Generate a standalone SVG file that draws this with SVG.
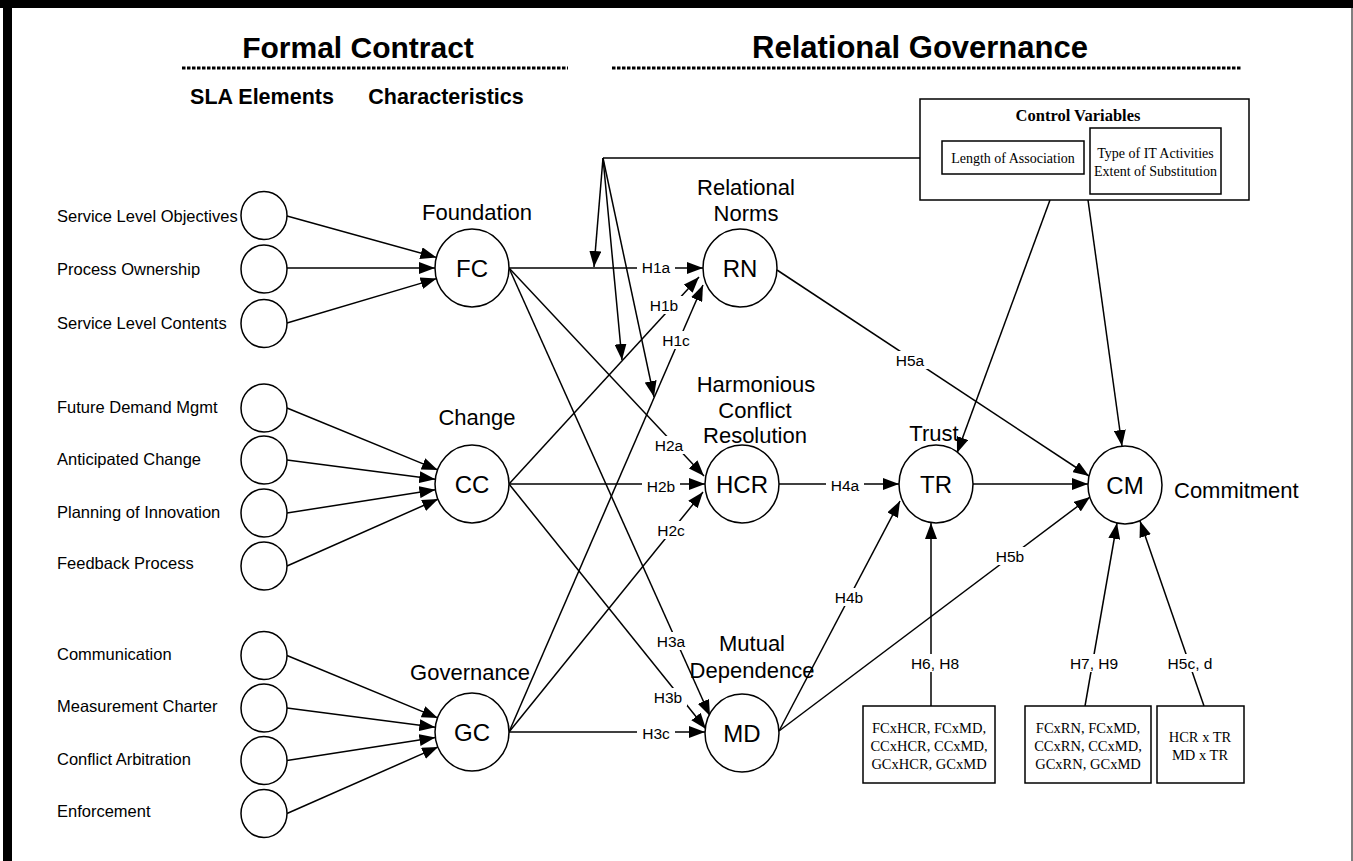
<svg xmlns="http://www.w3.org/2000/svg" width="1353" height="861" viewBox="0 0 1353 861">
<style>
.h1{font-family:"Liberation Sans",Arial,sans-serif;font-size:31px;font-weight:bold;text-anchor:middle}
.h2{font-family:"Liberation Sans",Arial,sans-serif;font-size:21.5px;font-weight:bold;text-anchor:middle}
.el{font-family:"Liberation Sans",Arial,sans-serif;font-size:16.5px}
.lb{font-family:"Liberation Sans",Arial,sans-serif;font-size:22px;text-anchor:middle}
.n{font-family:"Liberation Sans",Arial,sans-serif;font-size:24px;text-anchor:middle}
.hy{font-family:"Liberation Sans",Arial,sans-serif;font-size:15.5px;text-anchor:middle}
.sf{font-family:"Liberation Serif","Times New Roman",serif;font-size:14.5px;text-anchor:middle}
.sfb{font-family:"Liberation Serif","Times New Roman",serif;font-size:16.5px;font-weight:bold;text-anchor:middle}
.c{fill:#fff;stroke:#000;stroke-width:1.5}
.bx{fill:#fff;stroke:#000;stroke-width:1.5}
.dash{stroke:#000;stroke-width:3;stroke-dasharray:3.5 1.5;fill:none}
#connectors line,#connectors polyline{stroke:#000;stroke-width:1.5;fill:none}
.a{marker-end:url(#ah)}
.bg{fill:#fff;stroke:none}
</style>
<defs>
<marker id="ah" markerWidth="16" markerHeight="12" refX="16" refY="6" orient="auto" markerUnits="userSpaceOnUse"><path d="M0,0 L16,6 L0,12 z" fill="#000"/></marker>
</defs>
<rect width="1353" height="861" fill="#fff"/>
<g id="frame">
<rect x="0" y="0" width="1353" height="8" fill="#000"/>
<rect x="3" y="0" width="9" height="861" fill="#000"/>
<line x1="1352" y1="0" x2="1352" y2="861" stroke="#000" stroke-width="1"/>
</g>
<g id="headers">
<text class="h1" x="358" y="58" style="font-size:30px">Formal Contract</text>
<line class="dash" x1="182" y1="68" x2="568" y2="68"/>
<text class="h1" x="920" y="58">Relational Governance</text>
<line class="dash" x1="612" y1="68" x2="1242" y2="68"/>
<text class="h2" x="262" y="104">SLA Elements</text>
<text class="h2" x="446" y="104">Characteristics</text>
</g>
<g id="connectors">
<line class="a" x1="287" y1="216" x2="436.4" y2="257.4"/>
<line class="a" x1="287" y1="268" x2="435" y2="268"/>
<line class="a" x1="287" y1="323" x2="436.6" y2="278.6"/>
<line class="a" x1="287" y1="408" x2="437.8" y2="469.9"/>
<line class="a" x1="287" y1="460" x2="435.3" y2="479.2"/>
<line class="a" x1="287" y1="513" x2="435.4" y2="489.7"/>
<line class="a" x1="287" y1="566" x2="438.2" y2="499"/>
<line class="a" x1="287" y1="655.5" x2="437.8" y2="717.9"/>
<line class="a" x1="287" y1="708" x2="435.3" y2="727.2"/>
<line class="a" x1="287" y1="760.5" x2="435.4" y2="737.6"/>
<line class="a" x1="287" y1="813.5" x2="438.1" y2="746.9"/>
<line class="a" x1="509" y1="268" x2="703" y2="268"/>
<line class="a" x1="509" y1="484" x2="699" y2="277"/>
<line class="a" x1="509" y1="732" x2="703" y2="285"/>
<line class="a" x1="509" y1="268" x2="704" y2="476"/>
<line class="a" x1="509" y1="484" x2="705" y2="484"/>
<line class="a" x1="509" y1="732" x2="703" y2="492"/>
<line class="a" x1="509" y1="268" x2="710" y2="716"/>
<line class="a" x1="509" y1="484" x2="706" y2="729"/>
<line class="a" x1="509" y1="732" x2="705" y2="732"/>
<line class="a" x1="779" y1="484" x2="899" y2="484"/>
<line class="a" x1="779" y1="731" x2="900" y2="501"/>
<line class="a" x1="777" y1="270" x2="1089" y2="476"/>
<line class="a" x1="779" y1="731" x2="1090" y2="497"/>
<line class="a" x1="973" y1="484" x2="1088" y2="484"/>
<line class="a" x1="931" y1="706" x2="931" y2="523"/>
<line class="a" x1="1085" y1="706" x2="1117" y2="523"/>
<line class="a" x1="1204" y1="706" x2="1140" y2="521"/>
<line class="a" x1="1050" y1="200" x2="957" y2="453"/>
<line class="a" x1="1088" y1="200" x2="1122" y2="446"/>
<polyline points="942,158 603,158"/>
<line class="a" x1="603" y1="158" x2="594" y2="267"/>
<line class="a" x1="603" y1="158" x2="622" y2="360"/>
<line class="a" x1="603" y1="158" x2="654" y2="397"/>
<g id="hyp-labels">
<rect class="bg" x="637" y="258" width="38" height="18"/><text class="hy" x="656" y="272.5">H1a</text>
<rect class="bg" x="645" y="296" width="38" height="18"/><text class="hy" x="664" y="310.5">H1b</text>
<rect class="bg" x="657" y="331" width="38" height="18"/><text class="hy" x="676" y="345.5">H1c</text>
<rect class="bg" x="650" y="436" width="38" height="18"/><text class="hy" x="669" y="450.5">H2a</text>
<rect class="bg" x="642" y="477" width="38" height="18"/><text class="hy" x="661" y="491.5">H2b</text>
<rect class="bg" x="652" y="521" width="38" height="18"/><text class="hy" x="671" y="535.5">H2c</text>
<rect class="bg" x="652" y="632" width="38" height="18"/><text class="hy" x="671" y="646.5">H3a</text>
<rect class="bg" x="649" y="688" width="38" height="18"/><text class="hy" x="668" y="702.5">H3b</text>
<rect class="bg" x="637" y="724" width="38" height="18"/><text class="hy" x="656" y="738.5">H3c</text>
<rect class="bg" x="826" y="476" width="38" height="18"/><text class="hy" x="845" y="490.5">H4a</text>
<rect class="bg" x="830" y="588" width="38" height="18"/><text class="hy" x="849" y="602.5">H4b</text>
<rect class="bg" x="891" y="351" width="38" height="18"/><text class="hy" x="910" y="365.5">H5a</text>
<rect class="bg" x="991" y="547" width="38" height="18"/><text class="hy" x="1010" y="561.5">H5b</text>
<rect class="bg" x="907" y="654" width="56" height="18"/><text class="hy" x="935" y="668.5">H6, H8</text>
<rect class="bg" x="1066" y="654" width="56" height="18"/><text class="hy" x="1094" y="668.5">H7, H9</text>
<rect class="bg" x="1164" y="654" width="52" height="18"/><text class="hy" x="1190" y="668.5">H5c, d</text>
</g>
</g>
<g id="control-variables">
<rect class="bx" x="920" y="99" width="329" height="101"/>
<text class="sfb" x="1078" y="121">Control Variables</text>
<rect class="bx" x="942" y="141" width="142" height="33"/>
<text class="sf" x="1013" y="163" style="font-size:14px">Length of Association</text>
<rect class="bx" x="1090" y="128" width="131" height="66"/>
<text class="sf" x="1155.5" y="158" style="font-size:14px">Type of IT Activities</text>
<text class="sf" x="1155.5" y="176" style="font-size:14px">Extent of Substitution</text>
</g>
<g id="el-slo"><ellipse class="c" cx="264" cy="215.5" rx="23" ry="24"/><text class="el" x="57" y="222">Service Level Objectives</text></g>
<g id="el-po"><ellipse class="c" cx="264" cy="269" rx="23" ry="24"/><text class="el" x="57" y="275">Process Ownership</text></g>
<g id="el-slc"><ellipse class="c" cx="264" cy="323.5" rx="23" ry="24"/><text class="el" x="57" y="329">Service Level Contents</text></g>
<g id="el-fdm"><ellipse class="c" cx="264" cy="408" rx="23" ry="24"/><text class="el" x="57" y="413">Future Demand Mgmt</text></g>
<g id="el-ac"><ellipse class="c" cx="264" cy="460" rx="23" ry="24"/><text class="el" x="57" y="465">Anticipated Change</text></g>
<g id="el-pi"><ellipse class="c" cx="264" cy="513" rx="23" ry="24"/><text class="el" x="57" y="518">Planning of Innovation</text></g>
<g id="el-fp"><ellipse class="c" cx="264" cy="566" rx="23" ry="24"/><text class="el" x="57" y="569">Feedback Process</text></g>
<g id="el-com"><ellipse class="c" cx="264" cy="655.5" rx="23" ry="24"/><text class="el" x="57" y="660">Communication</text></g>
<g id="el-mc"><ellipse class="c" cx="264" cy="708" rx="23" ry="24"/><text class="el" x="57" y="712">Measurement Charter</text></g>
<g id="el-ca"><ellipse class="c" cx="264" cy="760.5" rx="23" ry="24"/><text class="el" x="57" y="765">Conflict Arbitration</text></g>
<g id="el-enf"><ellipse class="c" cx="264" cy="813.5" rx="23" ry="24"/><text class="el" x="57" y="817">Enforcement</text></g>
<g id="node-fc"><text class="lb" x="477" y="220">Foundation</text><ellipse class="c" cx="472" cy="268" rx="37" ry="39"/><text class="n" x="472" y="277">FC</text></g>
<g id="node-cc"><text class="lb" x="477" y="425">Change</text><ellipse class="c" cx="472" cy="484" rx="37" ry="39"/><text class="n" x="472" y="493">CC</text></g>
<g id="node-gc"><text class="lb" x="470" y="680">Governance</text><ellipse class="c" cx="472" cy="732" rx="37" ry="39"/><text class="n" x="472" y="741">GC</text></g>
<g id="node-rn"><text class="lb" x="746" y="195">Relational</text><text class="lb" x="746" y="221">Norms</text><ellipse class="c" cx="740" cy="268" rx="37" ry="39"/><text class="n" x="740" y="277">RN</text></g>
<g id="node-hcr"><text class="lb" x="756" y="392">Harmonious</text><text class="lb" x="755" y="418">Conflict</text><text class="lb" x="755" y="443">Resolution</text><ellipse class="c" cx="742" cy="484" rx="37" ry="39"/><text class="n" x="742" y="493">HCR</text></g>
<g id="node-md"><text class="lb" x="752" y="651">Mutual</text><text class="lb" x="752" y="678">Dependence</text><ellipse class="c" cx="742" cy="733" rx="37" ry="39"/><text class="n" x="742" y="742">MD</text></g>
<g id="node-tr"><text class="lb" x="934" y="441">Trust</text><ellipse class="c" cx="936" cy="484" rx="37" ry="39"/><text class="n" x="936" y="493">TR</text></g>
<g id="node-cm"><ellipse class="c" cx="1125" cy="485" rx="37" ry="39"/><text class="n" x="1125" y="494">CM</text><text class="lb" x="1174" y="498" style="text-anchor:start">Commitment</text></g>
<g id="box-h6h8"><rect class="bx" x="863" y="706" width="132" height="77"/><text class="sf" x="929" y="733">FCxHCR, FCxMD,</text><text class="sf" x="929" y="751">CCxHCR, CCxMD,</text><text class="sf" x="929" y="769">GCxHCR, GCxMD</text></g>
<g id="box-h7h9"><rect class="bx" x="1025" y="706" width="126" height="77"/><text class="sf" x="1088" y="733">FCxRN, FCxMD,</text><text class="sf" x="1088" y="751">CCxRN, CCxMD,</text><text class="sf" x="1088" y="769">GCxRN, GCxMD</text></g>
<g id="box-h5cd"><rect class="bx" x="1157" y="706" width="87" height="77"/><text class="sf" x="1200" y="742">HCR x TR</text><text class="sf" x="1200" y="760">MD x TR</text></g>
</svg>
